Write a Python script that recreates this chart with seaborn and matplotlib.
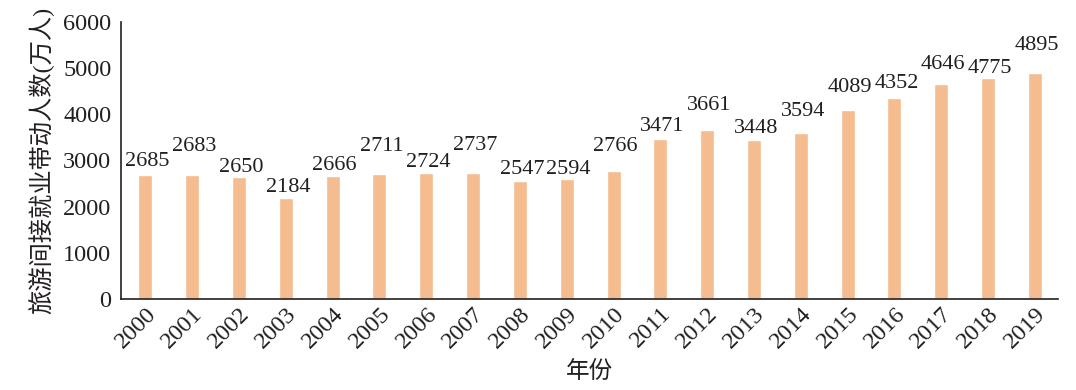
import pandas as pd
import seaborn as sns
import matplotlib.pyplot as plt

# 数据
years = [str(y) for y in range(2000, 2020)]
jobs = [2685, 2683, 2650, 2184, 2666, 2711, 2724, 2737, 2547, 2594,
        2766, 3471, 3661, 3448, 3594, 4089, 4352, 4646, 4775, 4895]

# 数值标注与柱顶的间距(像素)，原图中标注交错摆放以免重叠
label_gap_px = [9, 24, 5, 6, 6, 23, 6, 23, 7, 5,
                20, 8, 20, 7, 17, 18, 10, 15, 5, 23]

df = pd.DataFrame({'年份': years, '人数': jobs})

sns.set_theme(style='white')
plt.rcParams['font.family'] = ['Liberation Serif', 'Noto Sans CJK SC']
plt.rcParams['axes.unicode_minus'] = False

fig = plt.figure(figsize=(10.76, 3.9), dpi=100)
ax = fig.add_axes([0.1125, 0.233, 0.871, 0.711])

sns.barplot(data=df, x='年份', y='人数', color='#F4BC8F', saturation=1,
            width=0.3, ax=ax)

# 柱顶数值标注
for i, (v, gap) in enumerate(zip(jobs, label_gap_px)):
    ax.annotate(str(v), xy=(i, v), xytext=(2, gap), textcoords='offset pixels',
                ha='center', va='baseline', fontsize=16, color='#231f20')

ax.set_ylim(0, 6000)
ax.set_xlim(-0.52, 19.5)
ax.set_yticks(range(0, 6001, 1000))
ax.tick_params(axis='y', direction='out', length=4, width=1, labelsize=17.5,
               color='#231f20', labelcolor='#231f20', pad=3)
ax.tick_params(axis='x', length=0, labelsize=17.5, labelcolor='#231f20', pad=3)
plt.setp(ax.get_xticklabels(), rotation=45, ha='right', rotation_mode='anchor')

for s in ['top', 'right']:
    ax.spines[s].set_visible(False)
for s in ['left', 'bottom']:
    ax.spines[s].set_color('#231f20')
    ax.spines[s].set_linewidth(1.2)

ax.set_xlabel('年份', fontsize=17, color='#231f20', labelpad=6)
ax.set_ylabel('旅游间接就业带动人数(万人)', fontsize=17.5, color='#231f20', labelpad=6)

fig.savefig('out.png', dpi=100)
